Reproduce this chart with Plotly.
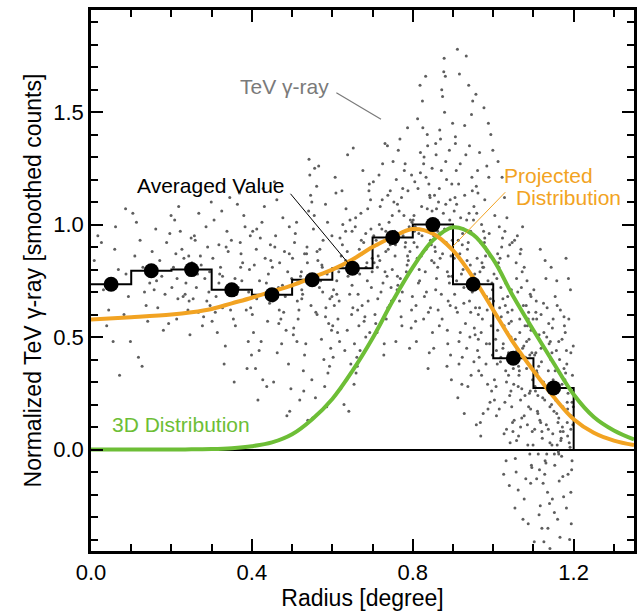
import plotly.graph_objects as go

# ---- radial profile: averaged values in 0.1-degree bins ----
bin_edges = [0.0, 0.1, 0.2, 0.3, 0.4, 0.5, 0.6, 0.7, 0.8, 0.9, 1.0, 1.1, 1.2]
bin_centers = [0.05, 0.15, 0.25, 0.35, 0.45, 0.55, 0.65, 0.75, 0.85, 0.95, 1.05, 1.15]
avg_value = [0.735, 0.795, 0.800, 0.710, 0.688, 0.755, 0.806, 0.943, 1.000, 0.735, 0.406, 0.274]

# ---- model curves ----
model_r = [0.00, 0.10, 0.20, 0.25, 0.30, 0.35, 0.40, 0.45, 0.50, 0.55, 0.60, 0.65,
           0.70, 0.75, 0.80, 0.85, 0.90, 0.95, 1.00, 1.05, 1.10, 1.15, 1.20, 1.25,
           1.30, 1.35]
projected = [0.578, 0.588, 0.600, 0.610, 0.625, 0.650, 0.675, 0.703, 0.730, 0.765,
             0.800, 0.845, 0.900, 0.945, 0.980, 0.960, 0.885, 0.765, 0.620, 0.475,
             0.350, 0.235, 0.135, 0.075, 0.040, 0.020]
dist_3d = [0.000, 0.000, 0.000, 0.001, 0.002, 0.006, 0.015, 0.032, 0.068, 0.135,
           0.225, 0.350, 0.495, 0.660, 0.810, 0.930, 0.988, 0.955, 0.845, 0.680,
           0.530, 0.385, 0.245, 0.145, 0.085, 0.045]

# ---- smoothed TeV counts, one point per sky pixel (radius, value) ----
cloud = [
    (0.031, 0.71), (0.008, 0.84), (0.044, 0.62), (0.017, 0.95), (0.026, 0.92), (0.039, 0.55),
    (0.087, 0.78), (0.061, 0.99), (0.093, 0.68), (0.071, 0.33), (0.055, 0.48), (0.082, 0.60),
    (0.068, 0.80), (0.086, 1.07), (0.059, 0.89), (0.098, 0.48),
    (0.133, 0.70), (0.104, 1.05), (0.141, 0.57), (0.118, 0.41), (0.127, 0.37), (0.109, 0.86),
    (0.146, 0.74), (0.122, 0.93), (0.137, 0.64), (0.113, 1.01), (0.129, 0.81),
    (0.184, 0.69), (0.161, 0.98), (0.193, 0.56), (0.152, 0.88), (0.176, 0.77), (0.199, 1.04),
    (0.166, 0.63), (0.188, 0.92), (0.157, 0.71), (0.171, 0.84), (0.180, 0.53), (0.196, 0.96),
    (0.163, 0.75),
    (0.226, 0.89), (0.244, 0.66), (0.208, 1.02), (0.237, 0.79), (0.213, 0.58), (0.249, 0.94),
    (0.201, 0.72), (0.231, 0.85), (0.218, 1.08), (0.241, 0.62), (0.205, 0.81), (0.222, 0.97),
    (0.234, 0.69), (0.211, 0.87), (0.246, 0.51), (0.229, 0.68), (0.216, 0.67),
    (0.283, 0.76), (0.259, 0.93), (0.296, 0.64), (0.268, 1.05), (0.251, 0.83), (0.277, 0.55),
    (0.290, 0.90), (0.262, 0.72), (0.286, 0.99), (0.254, 0.67), (0.272, 0.86), (0.299, 1.10),
    (0.265, 0.78), (0.280, 0.59), (0.257, 0.95), (0.293, 0.70), (0.274, 0.82), (0.288, 0.66),
    (0.327, 0.63), (0.341, 0.88), (0.306, 1.02), (0.334, 0.46), (0.318, 0.74), (0.349, 0.93),
    (0.301, 0.57), (0.322, 0.81), (0.345, 1.12), (0.311, 0.68), (0.338, 0.97), (0.314, 0.52),
    (0.331, 0.38), (0.303, 0.85), (0.347, 0.73), (0.325, 1.06), (0.309, 0.61), (0.336, 0.90),
    (0.320, 0.78), (0.343, 0.69),
    (0.388, 0.36), (0.362, 0.69), (0.396, 0.95), (0.354, 0.58), (0.377, 0.83), (0.369, 1.14),
    (0.391, 0.48), (0.358, 0.76), (0.383, 0.99), (0.351, 0.65), (0.373, 0.87), (0.399, 0.42),
    (0.366, 0.72), (0.380, 1.04), (0.359, 0.55), (0.394, 0.80), (0.371, 0.92), (0.386, 0.62),
    (0.356, 0.30), (0.375, 0.75), (0.364, 1.09), (0.392, 0.70),
    (0.437, 0.28), (0.412, 0.67), (0.446, 0.91), (0.404, 0.52), (0.428, 1.16), (0.441, 0.78),
    (0.418, 0.44), (0.433, 0.85), (0.401, 0.60), (0.425, 1.01), (0.448, 0.71), (0.409, 0.36),
    (0.421, 0.94), (0.439, 0.57), (0.415, 0.22), (0.406, 0.82), (0.431, 1.08), (0.444, 0.65),
    (0.423, 0.48), (0.411, 0.89), (0.436, 0.74), (0.427, 0.31), (0.402, 0.97), (0.443, 0.69),
    (0.472, 0.58), (0.489, 0.79), (0.456, 1.19), (0.494, 0.17), (0.463, 0.43), (0.481, 0.88),
    (0.452, 0.66), (0.477, 1.03), (0.497, 0.27), (0.466, 0.72), (0.485, 0.53), (0.459, 0.95),
    (0.491, 0.38), (0.469, 0.83), (0.454, 0.30), (0.479, 0.61), (0.462, 1.11), (0.499, 0.76),
    (0.474, 0.47), (0.487, 0.15), (0.457, 0.90), (0.483, 0.68), (0.467, 0.56), (0.493, 0.99),
    (0.451, 0.81), (0.476, 0.73),
    (0.528, 0.35), (0.512, 0.74), (0.541, 1.06), (0.503, 0.51), (0.536, 0.87), (0.519, 0.22),
    (0.547, 0.64), (0.508, 0.96), (0.531, 0.42), (0.523, 0.79), (0.544, 1.22), (0.515, 0.58),
    (0.539, 0.13), (0.501, 0.85), (0.526, 0.69), (0.549, 0.31), (0.511, 1.01), (0.534, 0.47),
    (0.521, 0.77), (0.506, 0.92), (0.542, 1.29), (0.517, 0.62), (0.529, 0.26), (0.538, 0.83),
    (0.504, 0.54), (0.546, 1.13), (0.524, 0.71), (0.513, 0.66),
    (0.579, 0.40), (0.562, 0.88), (0.594, 0.67), (0.556, 1.25), (0.586, 0.19), (0.571, 0.75),
    (0.598, 0.53), (0.553, 0.98), (0.566, 1.26), (0.589, 0.34), (0.575, 0.81), (0.559, 0.61),
    (0.583, 1.09), (0.596, 0.45), (0.568, 0.72), (0.551, 0.14), (0.577, 0.93), (0.591, 0.56),
    (0.564, 0.84), (0.581, 0.28), (0.555, 1.04), (0.599, 0.68), (0.573, 0.49), (0.587, 0.78),
    (0.561, 1.17), (0.593, 0.37), (0.569, 0.89), (0.584, 0.63), (0.558, 0.23), (0.576, 0.70),
    (0.627, 0.82), (0.613, 0.52), (0.644, 1.02), (0.603, 0.71), (0.636, 0.31), (0.619, 0.94),
    (0.648, 0.60), (0.607, 1.21), (0.631, 0.44), (0.622, 0.86), (0.641, 0.17), (0.611, 0.75),
    (0.634, 1.07), (0.601, 0.55), (0.625, 0.91), (0.646, 0.38), (0.616, 0.79), (0.638, 1.31),
    (0.605, 0.64), (0.629, 0.20), (0.649, 0.97), (0.618, 0.48), (0.633, 0.84), (0.609, 1.14),
    (0.643, 0.69), (0.621, 0.27), (0.637, 0.88), (0.614, 0.58), (0.626, 1.00), (0.602, 0.41),
    (0.639, 0.77), (0.617, 0.66),
    (0.678, 0.92), (0.663, 0.62), (0.692, 1.18), (0.655, 0.47), (0.686, 0.83), (0.659, 0.34),
    (0.671, 1.05), (0.697, 0.72), (0.666, 0.55), (0.683, 0.96), (0.652, 1.34), (0.689, 0.66),
    (0.674, 0.87), (0.661, 0.41), (0.695, 1.11), (0.668, 0.78), (0.681, 0.59), (0.657, 0.99),
    (0.654, 0.29), (0.699, 0.85), (0.676, 1.24), (0.664, 0.69), (0.693, 0.52), (0.672, 0.93),
    (0.687, 0.75), (0.658, 1.03), (0.669, 0.44), (0.684, 0.81), (0.651, 0.63), (0.691, 1.15),
    (0.667, 0.89), (0.679, 0.57), (0.662, 0.37), (0.696, 0.98),
    (0.726, 0.74), (0.741, 1.01), (0.708, 0.56), (0.733, 0.88), (0.716, 1.22), (0.747, 0.66),
    (0.703, 0.95), (0.729, 0.47), (0.712, 0.81), (0.738, 1.13), (0.721, 0.70), (0.744, 0.91),
    (0.706, 0.60), (0.731, 1.36), (0.718, 0.84), (0.749, 1.04), (0.711, 0.52), (0.736, 0.77),
    (0.723, 0.98), (0.702, 1.19), (0.742, 0.64), (0.714, 0.86), (0.728, 0.42), (0.737, 1.35),
    (0.709, 0.93), (0.746, 0.72), (0.719, 1.08), (0.734, 0.58), (0.704, 0.83), (0.725, 1.27),
    (0.748, 0.96), (0.713, 0.67), (0.739, 0.89), (0.717, 1.00), (0.731, 0.79), (0.744, 1.15),
    (0.784, 0.79), (0.766, 1.06), (0.797, 0.62), (0.752, 0.93), (0.779, 1.24), (0.761, 0.71),
    (0.791, 0.99), (0.773, 0.55), (0.756, 0.86), (0.788, 1.15), (0.769, 0.76), (0.794, 1.02),
    (0.758, 0.48), (0.781, 0.90), (0.764, 1.33), (0.799, 0.68), (0.776, 0.95), (0.753, 1.10),
    (0.786, 0.82), (0.771, 0.59), (0.759, 1.20), (0.793, 0.88), (0.778, 1.04), (0.763, 0.73),
    (0.787, 1.43), (0.796, 0.54), (0.755, 0.97), (0.772, 1.12), (0.789, 0.84), (0.767, 0.66),
    (0.751, 1.28), (0.782, 0.92), (0.798, 1.01), (0.762, 0.77), (0.775, 1.16), (0.768, 1.38),
    (0.792, 0.45), (0.757, 0.91),
    (0.826, 0.88), (0.843, 1.12), (0.808, 0.64), (0.837, 1.35), (0.815, 0.96), (0.849, 0.52),
    (0.803, 1.04), (0.831, 0.79), (0.819, 1.23), (0.846, 0.91), (0.812, 1.47), (0.834, 0.70),
    (0.822, 1.08), (0.841, 0.43), (0.806, 0.99), (0.828, 1.30), (0.847, 0.84), (0.813, 1.16),
    (0.839, 0.61), (0.801, 1.02), (0.824, 1.55), (0.844, 0.93), (0.817, 0.75), (0.833, 1.21),
    (0.809, 0.48), (0.848, 1.06), (0.821, 0.86), (0.836, 1.40), (0.804, 0.97), (0.829, 0.68),
    (0.842, 1.13), (0.818, 1.62), (0.811, 0.90), (0.838, 0.36), (0.827, 1.27), (0.845, 1.00),
    (0.807, 0.57), (0.832, 1.66), (0.816, 0.80), (0.840, 1.18), (0.823, 0.95),
    (0.876, 1.05), (0.891, 0.74), (0.858, 1.31), (0.883, 0.92), (0.866, 0.55), (0.897, 1.18),
    (0.853, 0.83), (0.879, 1.50), (0.861, 1.00), (0.894, 0.42), (0.871, 1.24), (0.856, 0.88),
    (0.888, 0.66), (0.864, 1.10), (0.881, 1.66), (0.852, 0.95), (0.896, 0.31), (0.869, 1.38),
    (0.886, 0.79), (0.859, 1.07), (0.873, 0.58), (0.899, 1.45), (0.862, 0.97), (0.884, 1.20),
    (0.857, 0.71), (0.892, 1.02), (0.877, 1.68), (0.868, 0.85), (0.887, 0.47), (0.854, 1.13),
    (0.874, 1.57), (0.898, 0.93), (0.863, 0.62), (0.882, 1.28), (0.851, 1.01), (0.889, 0.77),
    (0.867, 1.42), (0.893, 0.64), (0.872, 1.60), (0.885, 0.37), (0.878, 1.74), (0.855, 0.90),
    (0.895, 0.86),
    (0.926, 0.98), (0.941, 0.66), (0.908, 1.24), (0.934, 0.45), (0.917, 0.87), (0.946, 1.49),
    (0.903, 1.06), (0.911, 1.78), (0.937, 0.74), (0.922, 0.29), (0.948, 1.15), (0.913, 0.93),
    (0.931, 0.56), (0.906, 1.36), (0.943, 0.82), (0.919, 1.03), (0.928, 0.16), (0.939, 1.62),
    (0.904, 0.69), (0.924, 0.96), (0.947, 1.21), (0.915, 0.38), (0.936, 0.89), (0.933, 1.75),
    (0.909, 1.09), (0.944, 0.61), (0.921, 0.78), (0.929, 1.44), (0.901, 0.99), (0.942, 0.50),
    (0.918, 1.27), (0.935, 0.84), (0.912, 0.23), (0.949, 1.55), (0.927, 0.72), (0.905, 1.12),
    (0.938, 0.92), (0.923, 0.41), (0.916, 1.67), (0.945, 0.33), (0.932, 1.31), (0.907, 0.63),
    (0.925, 0.80), (0.914, 1.18), (0.940, 1.05),
    (0.974, 0.81), (0.959, 1.05), (0.991, 0.47), (0.966, 1.32), (0.983, 0.68), (0.957, 1.58),
    (0.978, 0.92), (0.996, 0.26), (0.962, 1.14), (0.987, 0.75), (0.953, 0.54), (0.971, 1.00),
    (0.994, 1.40), (0.964, 0.35), (0.981, 0.86), (0.956, 0.63), (0.989, 1.21), (0.968, 0.12),
    (0.976, 0.97), (0.998, 0.71), (0.977, 1.52), (0.961, 0.44), (0.985, 0.88), (0.952, 1.08),
    (0.973, 0.58), (0.992, 0.21), (0.967, 0.79), (0.984, 1.26), (0.955, 0.51), (0.979, 0.94),
    (0.969, 0.06), (0.993, 0.67), (0.958, 1.17), (0.982, 0.38), (0.972, 0.83), (0.999, 1.33),
    (0.963, 0.60), (0.986, 0.29), (0.951, 1.02), (0.975, 0.16), (0.997, 0.74), (0.965, 0.41),
    (0.988, 1.45), (0.954, 0.73), (0.980, 0.90), (0.970, 0.52), (0.990, 0.96), (0.960, 0.85),
    (1.027, 0.55), (1.013, 0.83), (1.041, 0.24), (1.004, 1.04), (1.036, 0.68), (1.019, 0.41),
    (1.047, 0.92), (1.008, 0.15), (1.031, 0.74), (1.022, 1.21), (1.044, 0.50), (1.011, 0.87),
    (1.038, 0.33), (1.016, 0.63), (1.029, 0.97), (1.049, 0.08), (1.002, 0.78), (1.034, 1.03),
    (1.024, 0.45), (1.026, -0.11), (1.043, 0.70), (1.007, 0.28), (1.021, 0.90), (1.039, 0.56),
    (1.032, -0.05), (1.014, 0.81), (1.046, 0.19), (1.001, 0.66), (1.028, 1.12), (1.018, 0.39),
    (1.040, -0.16), (1.009, 0.76), (1.035, 0.52), (1.023, 0.94), (1.048, 0.12), (1.005, 0.60),
    (1.031, 0.35), (1.017, 0.85), (1.042, 0.03), (1.012, 1.28), (1.037, 0.86), (1.025, 0.47),
    (1.003, 0.22), (1.045, 0.71), (1.020, 0.59), (1.033, 0.30), (1.010, 0.38), (1.030, 0.64),
    (1.015, 0.18),
    (1.076, 0.46), (1.061, 0.70), (1.093, 0.18), (1.054, -0.26), (1.087, 0.58), (1.069, 0.89),
    (1.098, 0.31), (1.058, 0.04), (1.082, 0.64), (1.062, -0.18), (1.091, 0.42), (1.073, 0.99),
    (1.052, 0.13), (1.084, 0.75), (1.066, 0.52), (1.095, -0.07), (1.071, 0.27), (1.057, 0.83),
    (1.088, 0.61), (1.074, -0.31), (1.063, 0.37), (1.097, 0.08), (1.079, 0.55), (1.053, 0.93),
    (1.068, 0.22), (1.081, -0.13), (1.094, 0.68), (1.059, 0.44), (1.086, 0.02), (1.072, 0.79),
    (1.087, -0.33), (1.064, 0.33), (1.099, 0.58), (1.077, 0.15), (1.055, -0.04), (1.083, 0.48),
    (1.067, 0.87), (1.092, 0.26), (1.096, -0.08), (1.075, 0.64), (1.056, 0.39), (1.085, 0.11),
    (1.065, 0.35), (1.089, 0.49), (1.077, -0.22), (1.051, 0.29), (1.070, 0.72), (1.090, 0.25),
    (1.060, 0.95), (1.080, 0.41), (1.063, 0.06), (1.094, 0.53),
    (1.126, 0.52), (1.102, -0.41), (1.141, 0.19), (1.113, 0.37), (1.135, -0.19), (1.107, 0.66),
    (1.148, 0.07), (1.119, 0.45), (1.131, -0.06), (1.104, 0.28), (1.144, 0.81), (1.116, 0.13),
    (1.114, -0.29), (1.138, 0.56), (1.109, 0.34), (1.128, -0.11), (1.146, 0.02), (1.101, 0.71),
    (1.123, 0.23), (1.121, -0.35), (1.142, 0.48), (1.111, 0.16), (1.133, -0.02), (1.106, 0.61),
    (1.126, -0.41), (1.149, 0.31), (1.117, 0.89), (1.137, 0.09), (1.103, 0.42), (1.124, -0.15),
    (1.145, 0.20), (1.112, -0.02), (1.131, 0.76), (1.108, 0.35), (1.136, -0.35), (1.122, 0.05),
    (1.147, 0.54), (1.105, 0.26), (1.140, -0.24), (1.118, 0.12), (1.129, 0.84), (1.143, 0.40),
    (1.115, -0.09), (1.134, 0.63), (1.110, 0.17), (1.147, -0.22), (1.125, 0.30), (1.139, 0.47),
    (1.120, 0.39), (1.132, 0.11), (1.108, 0.58), (1.144, 0.27),
    (1.176, 0.36), (1.152, -0.02), (1.188, 0.58), (1.163, 0.14), (1.195, -0.09), (1.157, 0.27),
    (1.181, 0.85), (1.169, 0.05), (1.193, 0.43), (1.160, -0.31), (1.184, 0.21), (1.154, 0.68),
    (1.172, 0.10), (1.164, -0.14), (1.197, 0.33), (1.166, -0.39), (1.179, 0.52), (1.151, 0.17),
    (1.191, 0.01), (1.170, -0.03), (1.158, 0.75), (1.186, 0.25), (1.174, 0.08), (1.199, 0.46),
    (1.175, -0.21), (1.161, 0.12), (1.183, 0.38), (1.196, -0.05), (1.167, 0.62), (1.189, 0.03),
    (1.155, 0.22), (1.182, -0.26), (1.171, 0.49), (1.194, 0.15), (1.159, 0.02), (1.178, 0.31),
    (1.187, 0.76), (1.153, -0.07), (1.173, 0.19), (1.190, -0.40), (1.165, 0.40), (1.185, 0.06),
    (1.193, -0.19), (1.156, 0.28), (1.177, 0.55), (1.198, 0.11), (1.162, -0.01), (1.180, 0.34),
    (1.168, 0.04), (1.192, 0.71), (1.185, 0.18), (1.157, 0.44),
]

# additional pixels in the crowded outer annulus
cloud_outer = [
    (0.814, 0.74), (0.839, 0.99), (0.862, 0.81), (0.893, 1.11), (0.827, 0.58), (0.848, 1.25),
    (0.871, 0.69), (0.805, 1.19), (0.886, 0.53), (0.833, 0.89), (0.857, 1.36), (0.879, 0.98),
    (0.819, 1.32), (0.897, 0.77), (0.844, 0.63), (0.866, 1.16), (0.811, 0.85), (0.882, 1.09),
    (0.852, 0.45), (0.825, 1.43), (0.874, 0.87), (0.891, 1.33), (0.836, 1.07), (0.859, 0.76),
    (0.803, 0.92),
    (0.918, 0.52), (0.944, 0.97), (0.966, 0.63), (0.987, 0.18), (0.903, 0.85), (0.929, 1.13),
    (0.952, 0.39), (0.976, 0.81), (0.995, 0.55), (0.911, 0.61), (0.937, 0.28), (0.961, 1.24),
    (0.983, 0.47), (0.906, 1.39), (0.948, 0.70), (0.971, 0.33), (0.992, 0.86), (0.923, 0.91),
    (0.958, 0.11), (0.979, 1.11), (0.915, 0.48), (0.941, 1.35), (0.969, 0.92), (0.998, 0.42),
    (0.927, 0.65), (0.954, 0.78), (0.985, 0.62), (0.934, 1.02), (0.963, 0.49), (0.909, 0.75),
    (1.006, 0.49), (1.029, 0.21), (1.047, 0.62), (1.071, 0.14), (1.092, 0.69), (1.015, 0.99),
    (1.038, 0.43), (1.058, 0.76), (1.083, 0.36), (1.099, 0.02), (1.003, 0.31), (1.024, 0.67),
    (1.044, 0.26), (1.066, 0.58), (1.088, 0.19), (1.011, 0.53), (1.033, 0.09), (1.055, 0.49),
    (1.077, 0.81), (1.096, 0.43), (1.019, 0.72), (1.041, 0.91), (1.062, 0.28), (1.085, 0.55),
    (1.008, 0.44), (1.027, 0.07), (1.050, 0.36), (1.073, 0.45), (1.091, -0.02), (1.036, 0.61),
    (1.079, 0.24), (1.057, -0.10), (1.093, -0.15), (1.068, 0.10), (1.045, 0.57),
    (1.106, 0.43), (1.128, 0.22), (1.149, 0.58), (1.171, 0.29), (1.193, 0.09), (1.114, 0.51),
    (1.137, 0.35), (1.158, 0.16), (1.182, 0.44), (1.103, 0.09), (1.125, 0.65), (1.146, 0.43),
    (1.167, 0.08), (1.189, 0.27), (1.111, 0.24), (1.133, 0.50), (1.154, 0.35), (1.176, 0.59),
    (1.196, 0.21), (1.119, 0.60), (1.141, 0.03), (1.163, 0.48), (1.184, 0.12), (1.108, -0.13),
    (1.129, -0.05), (1.152, -0.28), (1.173, -0.12), (1.194, -0.33), (1.117, -0.25),
    (1.141, -0.44), (1.163, -0.02), (1.186, -0.11), (1.199, 0.19), (1.121, 0.08), (1.159, 0.64),
    (0.512, 0.48), (0.537, 0.90), (0.562, 0.60), (0.588, 1.01), (0.611, 0.69), (0.637, 0.53),
    (0.662, 0.80), (0.688, 1.07), (0.713, 0.91), (0.738, 0.63), (0.762, 1.09), (0.787, 0.86),
    (0.524, 0.67), (0.549, 1.10), (0.574, 0.82), (0.599, 0.95), (0.624, 1.15), (0.649, 0.73),
    (0.674, 0.64), (0.699, 0.79), (0.724, 1.11), (0.749, 0.80), (0.774, 0.70), (0.797, 1.22),
    (0.531, 0.87), (0.583, 0.59), (0.633, 0.97), (0.683, 0.50), (0.733, 0.97), (0.781, 1.27),
    (0.214, 0.76), (0.243, 0.86), (0.267, 0.61), (0.295, 0.79), (0.318, 0.91), (0.347, 0.62),
    (0.372, 0.81), (0.397, 0.63), (0.419, 0.75), (0.447, 0.84), (0.468, 0.62), (0.493, 0.87),
    (0.236, 0.74), (0.327, 0.77), (0.412, 0.98),
]

pixels = cloud + cloud_outer
cloud_r = [p[0] for p in pixels]
cloud_v = [p[1] for p in pixels]

ORANGE = "#F2A322"
GREEN = "#6DBE36"
FONT = "Liberation Sans, Arial, Helvetica, sans-serif"

fig = go.Figure()

# pixel-by-pixel counts
fig.add_trace(go.Scatter(
    x=cloud_r, y=cloud_v, mode="markers",
    marker=dict(size=3, color="#5e5e5e", line=dict(width=0)),
    hoverinfo="skip"))

# binned profile drawn as a step outline that drops to zero at the last edge
step_x = bin_edges + [bin_edges[-1]]
step_y = avg_value + [avg_value[-1], 0.0]
fig.add_trace(go.Scatter(
    x=step_x, y=step_y, mode="lines", line_shape="hv",
    line=dict(color="black", width=2)))

# 3D shell model and its line-of-sight projection
fig.add_trace(go.Scatter(
    x=model_r, y=dist_3d, mode="lines", line_shape="spline",
    line=dict(color=GREEN, width=4)))
fig.add_trace(go.Scatter(
    x=model_r, y=projected, mode="lines", line_shape="spline",
    line=dict(color=ORANGE, width=4)))

# averaged values at bin centres
fig.add_trace(go.Scatter(
    x=bin_centers, y=avg_value, mode="markers",
    marker=dict(size=15, color="black")))

# label leader lines
fig.add_shape(type="line", xref="x", yref="y", x0=0.61, y0=1.586, x1=0.721, y1=1.468,
              line=dict(color="#7a7a7a", width=1.2))
fig.add_shape(type="line", xref="x", yref="y", x0=0.496, y0=1.137,
              x1=bin_centers[6], y1=avg_value[6], line=dict(color="black", width=1))
fig.add_shape(type="line", xref="x", yref="y", x0=1.030, y0=1.144, x1=0.899, y1=0.902,
              line=dict(color=ORANGE, width=1))


def label(text, x, y, color, anchor):
    fig.add_annotation(text=text, x=x, y=y, xref="x", yref="y", showarrow=False,
                       xanchor=anchor, yanchor="middle",
                       font=dict(family=FONT, size=21, color=color))


label("TeV γ-ray", 0.481, 1.615, "#7a7a7a", "center")
label("Averaged Value", 0.299, 1.174, "black", "center")
label("Projected", 1.022, 1.220, ORANGE, "left")
label("Distribution", 1.052, 1.120, ORANGE, "left")
label("3D Distribution", 0.047, 0.113, GREEN, "left")

axis_common = dict(
    showgrid=False, ticks="inside", ticklen=12, tickwidth=2, tickcolor="black",
    showline=True, linewidth=2.5, linecolor="black", mirror="ticks",
    tickfont=dict(family=FONT, size=22, color="black"), tickformat=".1f",
)

fig.update_xaxes(
    range=[0, 1.35], tick0=0, dtick=0.4, zeroline=False,
    minor=dict(dtick=0.1, tick0=0, ticks="inside", ticklen=7, tickwidth=2,
               tickcolor="black", showgrid=False),
    title=dict(text="Radius [degree]", font=dict(family=FONT, size=23, color="black"),
               standoff=6),
    **axis_common)
fig.update_yaxes(
    range=[-0.451, 1.954], tick0=0, dtick=0.5,
    zeroline=True, zerolinecolor="black", zerolinewidth=2,
    minor=dict(dtick=0.1, tick0=0, ticks="inside", ticklen=7, tickwidth=2,
               tickcolor="black", showgrid=False),
    title=dict(text="Normalized TeV γ-ray [smoothed counts]",
               font=dict(family=FONT, size=23, color="black"), standoff=6),
    **axis_common)

fig.update_layout(
    width=644, height=614, autosize=False,
    margin=dict(l=91, r=7, t=8, b=61),
    plot_bgcolor="white", paper_bgcolor="white",
    showlegend=False,
    font=dict(family=FONT, color="black"),
)

fig.write_html("out.html")
